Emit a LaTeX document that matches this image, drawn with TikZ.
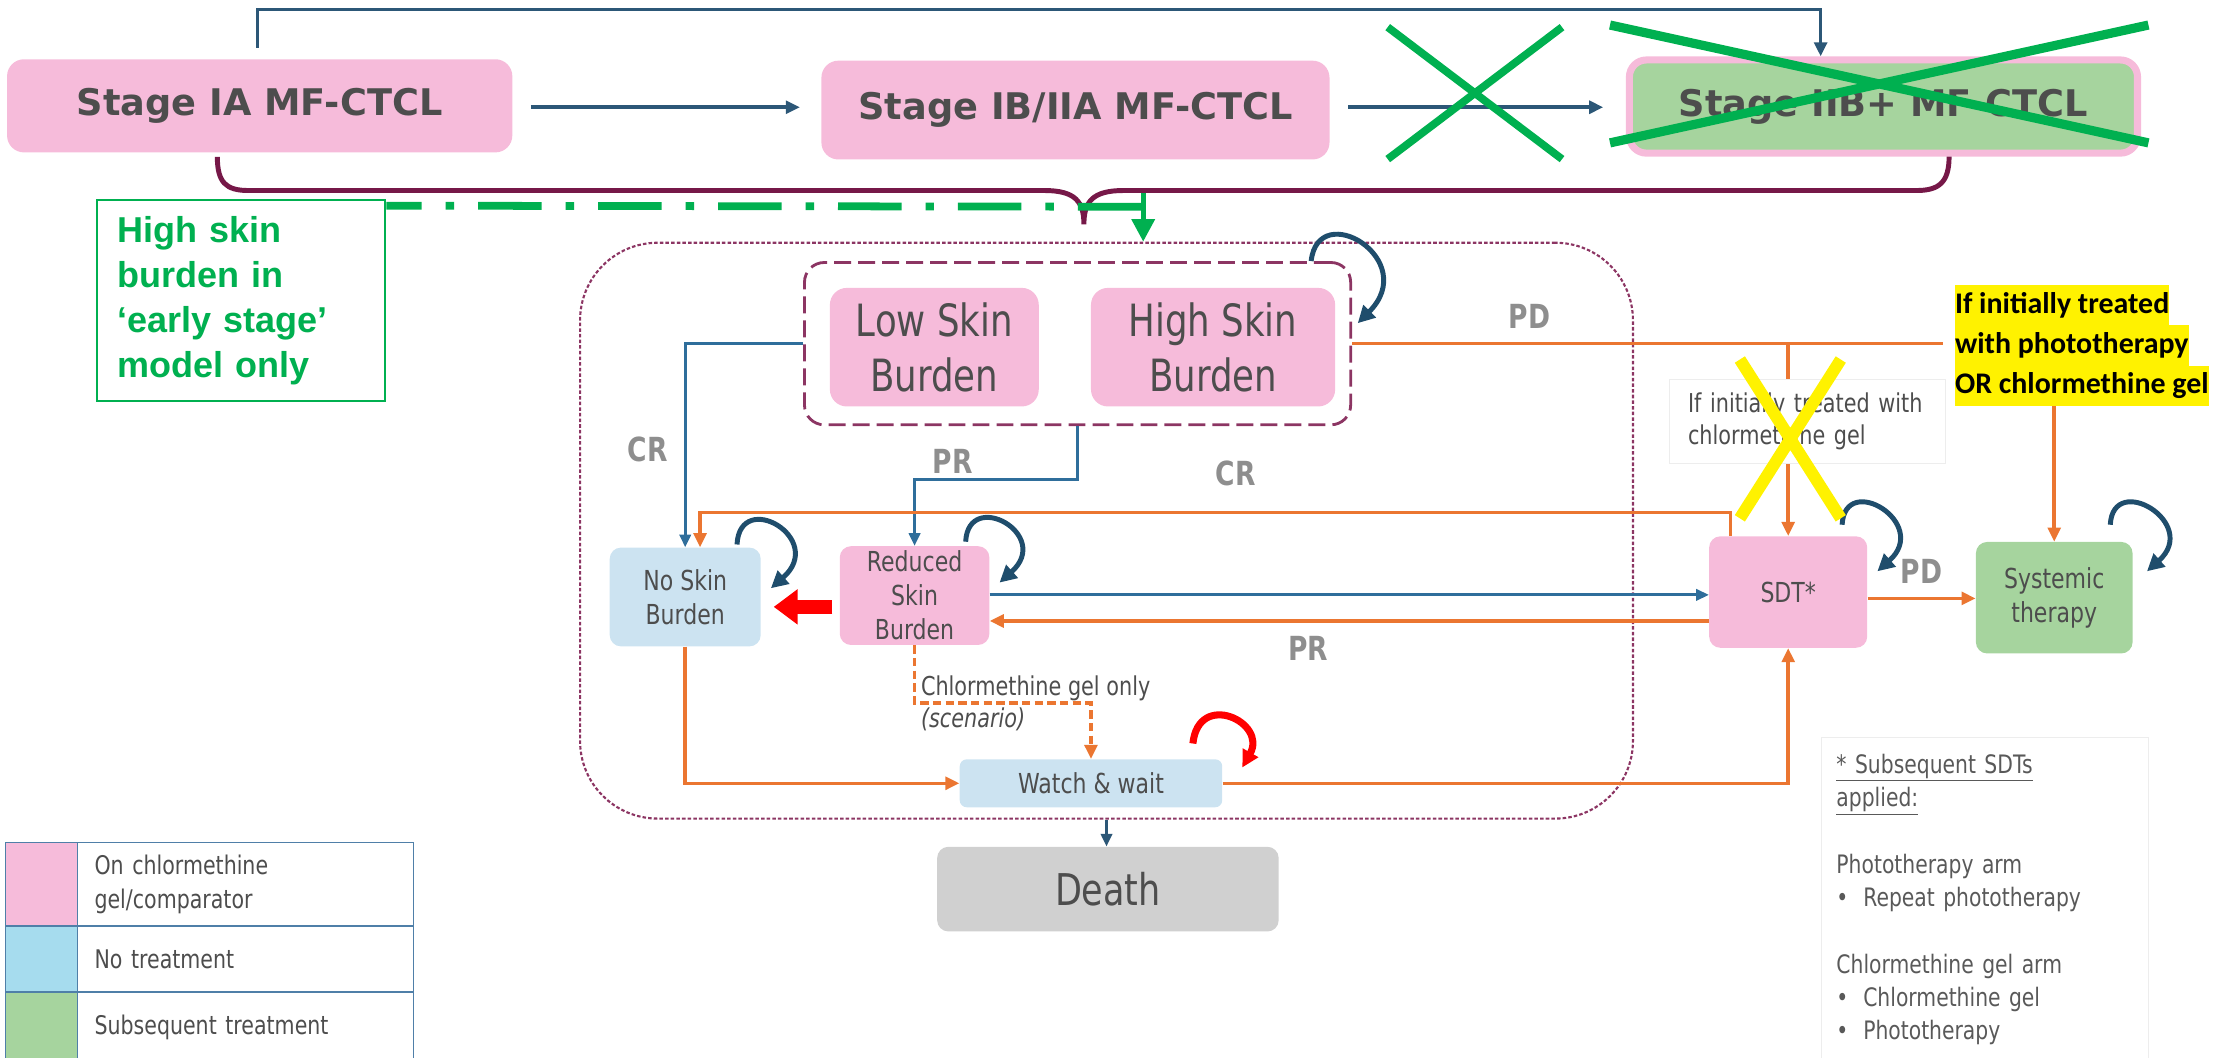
\documentclass[tikz,border=0pt]{standalone}
\usepackage{fontspec}
\setmainfont{DejaVu Sans}[FakeStretch=0.8]
\newfontfamily\stagefont{DejaVu Sans}
\newfontfamily\greenfont{Liberation Sans}
\newfontfamily\calfont{Carlito}
\usepackage{xcolor}
\usepackage{tikz}
\usetikzlibrary{arrows.meta, positioning, shapes.misc}
\definecolor{onpink}{HTML}{F6BBDA}
\definecolor{notreat}{HTML}{CCE3F1}
\definecolor{legblue}{HTML}{A6DCEE}
\definecolor{subseq}{HTML}{A6D49E}
\definecolor{deathgrey}{HTML}{D0D0D0}
\definecolor{txtgrey}{HTML}{4D4D4D}
\definecolor{lblgrey}{HTML}{8E8E8E}
\definecolor{topblue}{HTML}{2C5777}
\definecolor{arrblue}{HTML}{2F6E9B}
\definecolor{loopblue}{HTML}{1F4D6C}
\definecolor{arrorange}{HTML}{EB7631}
\definecolor{plum}{HTML}{8C3563}
\definecolor{bracecol}{HTML}{761848}
\definecolor{xgreen}{HTML}{00B050}
\definecolor{legline}{HTML}{4F7FA8}
\definecolor{faint}{HTML}{EDEDED}
\definecolor{notetxt}{HTML}{595959}
\newcommand{\hlline}[1]{{\setlength{\fboxsep}{0pt}\colorbox{yellow}{\strut #1}}}
\tikzset{
  statebox/.style={rounded corners=8pt, inner sep=2pt, align=center, text=txtgrey,
                   font=\fontsize{19.5}{24}\selectfont},
  pinkstate/.style={statebox, fill=onpink},
  bluestate/.style={statebox, fill=notreat},
  greenstate/.style={statebox, fill=subseq},
  stagebox/.style={statebox, fill=onpink, rounded corners=12pt,
                   font=\stagefont\bfseries\fontsize{26}{30}\selectfont},
  skinbox/.style={pinkstate, rounded corners=12pt, minimum height=84pt,
                  font=\fontsize{31.5}{39}\selectfont},
  modelbox/.style={draw=plum, line width=1.5pt, dash pattern=on 2.5pt off 1.5pt,
                   rounded corners=55pt},
  groupbox/.style={draw=plum, line width=2pt, dash pattern=on 12pt off 5pt,
                   rounded corners=14pt},
  brace/.style={line width=3.5pt, draw=bracecol},
  flow/.style={-{Triangle[length=9pt,width=8pt]}, line width=2pt, draw=arrblue},
  topflow/.style={-{Triangle[length=10pt,width=9pt]}, line width=2.5pt, draw=topblue},
  oflow/.style={-{Triangle[length=10pt,width=9pt]}, line width=2.5pt, draw=arrorange},
  oline/.style={line width=2.5pt, draw=arrorange},
  odash/.style={oflow, dash pattern=on 6pt off 3pt},
  redflow/.style={-{Triangle[length=17pt,width=24pt]}, line width=9.5pt, draw=red},
  selfloop/.style={-{Triangle[length=12pt,width=12pt]}, line width=3.5pt, draw=loopblue},
  redloop/.style={selfloop, line width=5pt, draw=red},
  lbl/.style={font=\bfseries\fontsize{23.5}{26}\selectfont, text=lblgrey},
  smalltxt/.style={font=\fontsize{18.4}{23}\selectfont, text=txtgrey, align=left},
  gnote/.style={draw=xgreen, line width=1.5pt, fill=white, text=xgreen, align=left,
                text width=176pt, inner xsep=14pt, minimum height=142pt,
                font=\greenfont\bfseries\fontsize{25.5}{32}\selectfont},
  gdash/.style={line width=5.5pt, draw=xgreen,
                dash pattern=on 45pt off 17pt on 6pt off 17pt, dash phase=20pt},
  garrow/.style={-{Triangle[length=16pt,width=16pt]}, line width=3.5pt, draw=xgreen},
  hlnote/.style={align=left, inner xsep=8pt, inner ysep=0pt, text=black,
                 font=\calfont\bfseries\fontsize{21.2}{28.4}\selectfont},
  xmark/.style={cross out, draw=xgreen, line width=6pt, inner sep=0pt},
  legsw/.style={draw=legline, line width=1pt, minimum width=51pt, inner sep=0pt, outer sep=0pt},
  legtx/.style={draw=legline, line width=1pt, minimum width=238pt, text width=214pt,
                inner xsep=12pt, outer sep=0pt, align=left, text=txtgrey,
                font=\fontsize{18.2}{24}\selectfont},
  notebox/.style={draw=faint, align=left, text width=210pt, inner xsep=11pt, inner ysep=12pt,
                  text=notetxt, font=\fontsize{18}{23.6}\selectfont},
}

\begin{document}
\begin{tikzpicture}[x=1pt, y=1pt]
  \useasboundingbox (0,0) rectangle (1568,749);
  % stages
  \node[stagebox, minimum width=358pt, minimum height=66pt] (ia) at (184,674) {Stage IA MF-CTCL};
  \node[stagebox, minimum width=360pt, minimum height=70pt] (ib) at (762,671) {Stage IB/IIA MF-CTCL};
  \node[stagebox, fill=subseq, draw=onpink, line width=5pt, minimum width=360pt,
        minimum height=66pt] (iib) at (1334.5,673.5) {Stage IIB+ MF-CTCL};
  \draw[topflow, shorten <=13pt, shorten >=15pt] ([yshift=-1pt]ia.east) -- ([yshift=-1pt]ia.east -| ib.west);
  \draw[topflow, shorten <=13pt, shorten >=16pt] ([yshift=2pt]ib.east) -- ([yshift=2pt]ib.east -| iib.west);
  \draw[topflow, shorten <=8pt] ([xshift=-1.5pt]ia.north) -- ++(0,35) -| ([xshift=-44.5pt]iib.north);
  % brace
  \draw[brace] ([xshift=-30pt,yshift=-3pt]ia.south) .. controls +(0,-18) and +(-16,0) .. (176,614)
    -- (740,614) .. controls +(22,0) and +(0,16) .. (768,590)
    .. controls +(0,16) and +(-22,0) .. (796,614) -- (1358,614)
    .. controls +(16,0) and +(0,-18) .. ([xshift=46.5pt]iib.south);
  % model
  \node[modelbox, minimum width=746pt, minimum height=408pt] (model) at (784,373) {};
  \node[groupbox, minimum width=387pt, minimum height=115pt] (inner) at (763.5,505.5) {};
  \node[skinbox, minimum width=148pt] (low) at (662,503) {Low Skin\\Burden};
  \node[skinbox, minimum width=173pt] (high) at (859.5,503) {High Skin\\Burden};
  \node[bluestate, minimum width=107pt, minimum height=70pt] (noskin) at (485.5,326) {No Skin\\Burden};
  \node[pinkstate, minimum width=106pt, minimum height=70pt] (reduced) at (648,327) {Reduced\\Skin\\Burden};
  \node[pinkstate, minimum width=112pt, minimum height=79pt] (sdt) at (1267,329.5) {SDT*};
  \node[greenstate, minimum width=111pt, minimum height=79pt] (systemic) at (1455.5,325.5) {Systemic\\therapy};
  \node[bluestate, rounded corners=5pt, minimum width=186pt, minimum height=34pt] (watch) at (773,194) {Watch \& wait};
  \node[statebox, fill=deathgrey, minimum width=242pt, minimum height=60pt,
        font=\fontsize{31}{36}\selectfont] (death) at (785,119) {Death};
  \node[hlnote, anchor=north west] (yellow) at (1377,547)
    {\hlline{If initially treated}\\\hlline{with phototherapy}\\\hlline{OR chlormethine gel}};
  % early-stage note
  \node[gnote] (hsnote) at (171,536) {High skin\\burden in\\‘early stage’\\model only};
  \coordinate (gcorner) at (810,602.5);
  \draw[gdash] ([yshift=-4.5pt]hsnote.north east) -- (gcorner);
  \draw[garrow] ([yshift=10pt]gcorner) -- (gcorner |- model.north);
  % transitions
  \draw[flow] (inner.west) -| (noskin.north) node[lbl, pos=0.76, left=8pt] {CR};
  \draw[flow] (inner.south) -- ++(0,-38) -| (reduced.north) node[lbl, pos=0.383, above=0pt] {PR};
  \draw[oflow] ([xshift=-41pt]sdt.north) -- ++(0,16.5) -| ([xshift=10.5pt]noskin.north)
    node[lbl, pos=0.24, above=14.5pt] {CR};
  \draw[redflow, shorten <=5pt, shorten >=9pt] ([yshift=-8pt]reduced.west) -- ([yshift=-8pt]reduced.west -| noskin.east);
  \draw[flow] ([yshift=0.5pt]reduced.east) -- ([yshift=0.5pt]reduced.east -| sdt.west);
  \draw[oflow] ([yshift=-20.5pt]sdt.west) -- ([yshift=-20.5pt]sdt.west -| reduced.east)
    node[lbl, pos=0.557, below=6pt] {PR};
  \draw[oline] (inner.east) -- (inner.east -| yellow.west) node[lbl, pos=0.3, above=6.5pt] {PD};
  \draw[oflow] (sdt.north |- inner.east) -- (sdt.north);
  \draw[oflow] (yellow.south -| systemic.north) -- (systemic.north);
  \draw[oflow] ([yshift=-4.5pt]sdt.east) -- ([yshift=-4.5pt]sdt.east -| systemic.west)
    node[lbl, pos=0.5, above=6pt] {PD};
  \draw[oflow] (noskin.south) |- (watch.west);
  \draw[odash] (reduced.south) -- ++(0,-41) -| (watch.north)
    node[smalltxt, pos=0, anchor=west] {Chlormethine gel only\\\textit{(scenario)}};
  \draw[oflow] (watch.east) -| (sdt.south);
  \draw[flow, draw=topblue] (model.south) -- (model.south |- death.north);
  % self loops
  \draw[selfloop] ([xshift=-29pt]inner.north east) .. controls +(5,45) and +(45,45) .. ([xshift=4pt,yshift=-44pt]inner.north east);
  \draw[selfloop] ([xshift=-17pt,yshift=2pt]noskin.north east) .. controls +(2,40) and +(40,35) .. ([xshift=7pt,yshift=-29pt]noskin.north east);
  \draw[selfloop] ([xshift=-17pt,yshift=3pt]reduced.north east) .. controls +(2,38) and +(38,34) .. ([xshift=7pt,yshift=-26pt]reduced.north east);
  \draw[selfloop] ([xshift=-18pt,yshift=8pt]sdt.north east) .. controls +(2,38) and +(38,34) .. ([xshift=7pt,yshift=-25pt]sdt.north east);
  \draw[selfloop] ([xshift=-16pt,yshift=12pt]systemic.north east) .. controls +(2,38) and +(38,34) .. ([xshift=10pt,yshift=-21pt]systemic.north east);
  \draw[redloop] ([xshift=-21pt,yshift=11pt]watch.north east) .. controls +(4,38) and +(18,32) .. ([xshift=14pt,yshift=-6pt]watch.north east);
  % crossed-out parts
  \node[smalltxt, draw=faint, fill=white, text width=169pt, inner xsep=13pt,
        minimum height=59pt] (ifchlor) at (1280.5,450.5) {If initially treated with\\chlormethine gel};
  \node[xmark, draw=yellow, line width=8.5pt, minimum width=63pt, minimum height=104pt] (xchlor) at (1268.5,438) {};
  \node[xmark, line width=5.5pt, minimum width=118pt, minimum height=88pt] (xflow) at (1045,683) {};
  \node[xmark, line width=6.5pt, minimum width=375pt, minimum height=77pt] (xstage) at (1331.5,689.5) {};
  % legend
  \node[legsw, fill=onpink, minimum height=59pt] (sw1) at (29.5,122.5) {};
  \node[legtx, minimum height=59pt, right=0pt of sw1] (lt1) {On chlormethine\\gel/comparator};
  \node[legsw, fill=legblue, minimum height=47pt, below=0pt of sw1] (sw2) {};
  \node[legtx, minimum height=47pt, right=0pt of sw2] (lt2) {No treatment};
  \node[legsw, fill=subseq, minimum height=50pt, below=0pt of sw2] (sw3) {};
  \node[legtx, minimum height=50pt, right=0pt of sw3] (lt3) {Subsequent treatment};
  % SDT note
  \node[notebox, anchor=north west] (sdtnote) at (1290,227)
    {\underline{* Subsequent SDTs}\\\underline{applied:}\\[23.6pt]
     Phototherapy arm\\\makebox[19pt][l]{•}Repeat phototherapy\\[23.6pt]
     Chlormethine gel arm\\\makebox[19pt][l]{•}Chlormethine gel\\\makebox[19pt][l]{•}Phototherapy};
\end{tikzpicture}
\end{document}
